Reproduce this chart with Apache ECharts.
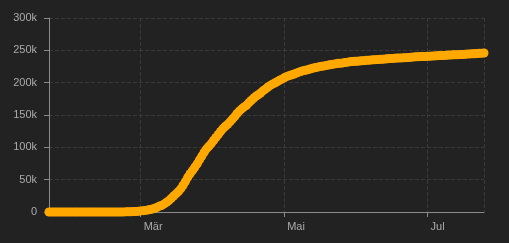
<!DOCTYPE html>
<html>
<head>
<meta charset="utf-8">
<script src="https://cdn.jsdelivr.net/npm/echarts@6/dist/echarts.min.js"></script>
<style>
html,body{margin:0;padding:0;background:#222222;}
#c{width:509px;height:243px;}
</style>
</head>
<body>
<div id="c"></div>
<script>
const startDate = '2020-01-22';
const cumulativeCases = [
0,0,0,0,0,0,0,0,0,2,
2,2,2,2,2,2,3,3,3,3,
3,3,3,3,3,3,3,3,3,3,
20,62,155,229,322,453,655,888,1128,1694,
2036,2502,3089,3858,4636,5883,7375,9172,10149,12462,
15113,17660,21157,24747,27980,31506,35713,41035,47021,53578,
59138,63927,69176,74386,80589,86498,92472,97689,101739,105792,
110574,115242,119827,124632,128948,132547,135586,139422,143626,147577,
152271,156363,159516,162488,165155,168941,172434,175925,178972,181228,
183957,187327,189973,192994,195351,197675,199414,201505,203591,205463,
207428,209328,210717,211938,213013,214457,215858,217185,218268,219070,
219814,221216,222104,223096,223885,224760,225435,225886,226699,227364,
228006,228658,229327,229858,230158,230555,231139,231732,232248,232664,
232997,233197,233515,233836,234013,234531,234801,234998,235278,235561,
235763,236142,236305,236651,236989,237290,237500,237828,238159,238011,
238275,238499,238720,238833,239410,239706,239961,240136,240310,240436,
240578,240760,240961,241184,241419,241611,241819,241956,242149,242363,
242639,242827,243061,243230,243344,243506,243736,243967,244216,244434,
244624,244752,245032,245338,245590,245864
];
const monthNames = ['Jan','Feb','Mär','Apr','Mai','Jun','Jul','Aug','Sep','Okt','Nov','Dez'];
const yTickLabels = ['0','50k','100k','150k','200k','250k','300k'];

const DAY = 86400000;
const t0 = Date.UTC(2020,0,22);
const seriesData = cumulativeCases.map((v,i)=>[t0 + i*DAY, v]);

const chart = echarts.init(document.getElementById('c'), null, {renderer:'canvas'});
chart.setOption({
  backgroundColor:'#222222',
  animation:false,
  grid:{left:49, top:18, right:25, bottom:31, containLabel:false},
  xAxis:{
    type:'time',
    min:'dataMin', max:'dataMax',
    splitNumber:3,
    axisLine:{lineStyle:{color:'#8a8a8a', width:1}},
    axisTick:{show:true, length:5, lineStyle:{color:'#8a8a8a'}},
    axisLabel:{color:'#aaaaaa', fontSize:11, margin:9, align:'left', padding:[0,0,0,3],
      formatter:function(v){ return monthNames[new Date(v).getMonth()]; }},
    splitLine:{show:true, lineStyle:{color:'#3a3a3a', type:'dashed'}}
  },
  yAxis:{
    type:'value',
    min:0, max:300000, interval:50000,
    axisLine:{show:true, lineStyle:{color:'#8a8a8a', width:1}},
    axisTick:{show:true, length:5, lineStyle:{color:'#8a8a8a'}},
    axisLabel:{color:'#aaaaaa', fontSize:11, margin:12,
      formatter:function(v){ return yTickLabels[Math.round(v/50000)]; }},
    splitLine:{show:true, lineStyle:{color:'#3a3a3a', type:'dashed'}}
  },
  series:[{
    type:'line',
    data:seriesData,
    showSymbol:true,
    showAllSymbol:true,
    symbol:'circle',
    symbolSize:9,
    itemStyle:{color:'#ffa800'},
    lineStyle:{color:'#ffa800', width:8, cap:'round', join:'round'}
  }]
});
</script>
</body>
</html>
